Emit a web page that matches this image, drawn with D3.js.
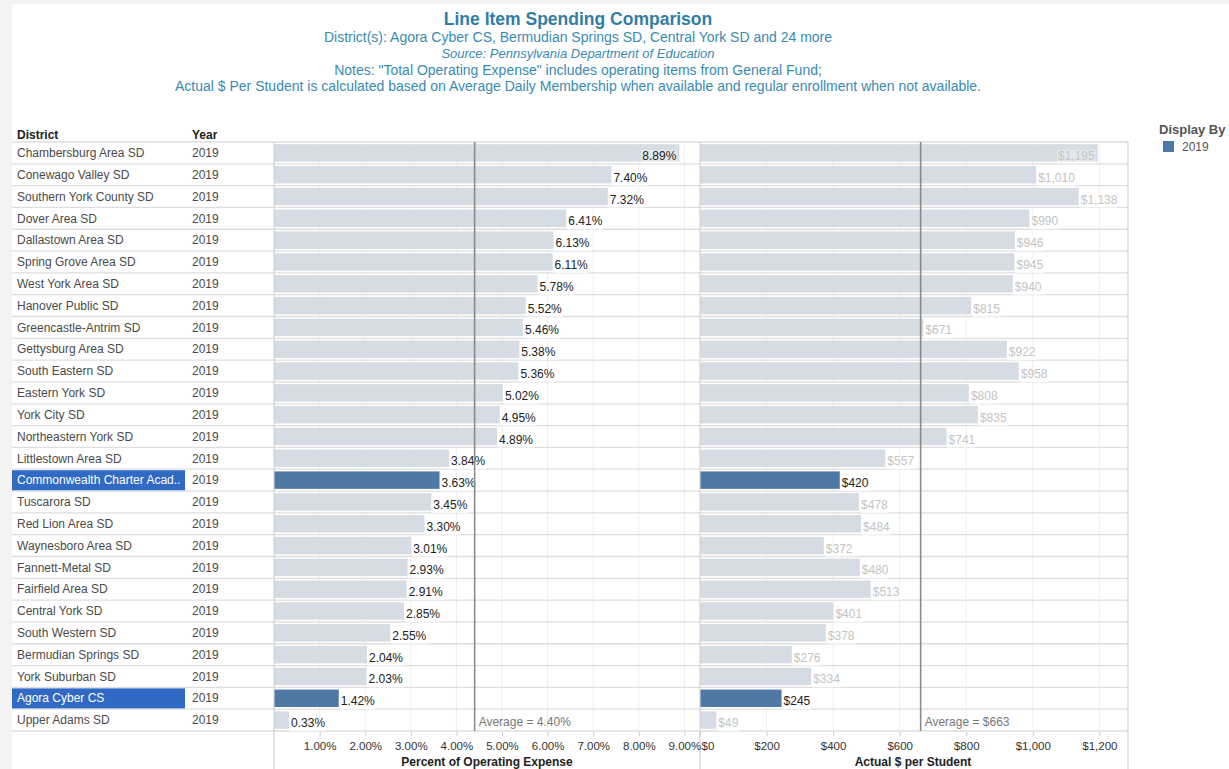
<!DOCTYPE html>
<html>
<head>
<meta charset="utf-8">
<script src="https://cdn.jsdelivr.net/npm/d3@7"></script>
<style>
    body { margin: 0; background: #f3f3f3; }
    svg { display: block; font-family: "Liberation Sans", Arial, sans-serif; }
</style>
</head>
<body>
<div id="chart"></div>
<script>
// values, top to bottom
const districts = [
    "Chambersburg Area SD", "Conewago Valley SD", "Southern York County SD", "Dover Area SD",
    "Dallastown Area SD", "Spring Grove Area SD", "West York Area SD", "Hanover Public SD",
    "Greencastle-Antrim SD", "Gettysburg Area SD", "South Eastern SD", "Eastern York SD",
    "York City SD", "Northeastern York SD", "Littlestown Area SD", "Commonwealth Charter Acad..",
    "Tuscarora SD", "Red Lion Area SD", "Waynesboro Area SD", "Fannett-Metal SD",
    "Fairfield Area SD", "Central York SD", "South Western SD", "Bermudian Springs SD",
    "York Suburban SD", "Agora Cyber CS", "Upper Adams SD"
];
const years = districts.map(() => "2019");
const pctOfExpense = [
    8.89, 7.40, 7.32, 6.41, 6.13, 6.11, 5.78, 5.52, 5.46, 5.38, 5.36, 5.02, 4.95, 4.89,
    3.84, 3.63, 3.45, 3.30, 3.01, 2.93, 2.91, 2.85, 2.55, 2.04, 2.03, 1.42, 0.33
];
const perStudent = [
    1195, 1010, 1138, 990, 946, 945, 940, 815, 671, 922, 958, 808, 835, 741,
    557, 420, 478, 484, 372, 480, 513, 401, 378, 276, 334, 245, 49
];
const highlighted = ["Commonwealth Charter Acad..", "Agora Cyber CS"];
const avgPct = 4.40;
const avgDollars = 663;
const pctTicks = [1, 2, 3, 4, 5, 6, 7, 8, 9];
const dollarTicks = [0, 200, 400, 600, 800, 1000, 1200];

const titleLines = [
    "District(s): Agora Cyber CS, Bermudian Springs SD, Central York SD and 24 more",
    "Source: Pennsylvania Department of Education",
    "Notes: \"Total Operating Expense\" includes operating items from General Fund;",
    "Actual $ Per Student is calculated based on Average Daily Membership when available and regular enrollment when not available."
];

const W = 1229, H = 769;
const rows = districts.map((d, i) => ({
    district: d,
    year: years[i],
    pct: pctOfExpense[i],
    dollars: perStudent[i],
    hl: highlighted.includes(d),
}));

const blue = "#4e79a7";
const light = "#d5dce4";
const teal = "#2f7ea5";

const svg = d3.select("#chart")
    .append("svg")
    .attr("width", W)
    .attr("height", H);

svg.append("rect")
    .attr("x", 12).attr("y", 4)
    .attr("width", W - 12).attr("height", H - 4)
    .attr("fill", "#fff");

// Titles
svg.append("text")
    .attr("x", 578).attr("y", 25)
    .attr("text-anchor", "middle")
    .attr("font-size", 17.5).attr("font-weight", "bold")
    .attr("fill", teal)
    .text("Line Item Spending Comparison");

const subY = [42, 58, 75, 91];
titleLines.forEach((t, i) => {
    svg.append("text")
        .attr("x", 578).attr("y", subY[i])
        .attr("text-anchor", "middle")
        .attr("font-size", i === 1 ? 13 : 14)
        .attr("font-style", i === 1 ? "italic" : null)
        .attr("fill", "#3a8ab2")
        .text(t);
});

// Row layout
const rowTop = 142, rowBottom = 731;
const y = d3.scaleBand()
    .domain(districts)
    .range([rowTop, rowBottom])
    .paddingInner(0.2)
    .paddingOuter(0.1);
const step = y.step();

const p1 = { x0: 274, x1: 700 };
const p2 = { x0: 700, x1: 1128 };
const xPct = d3.scaleLinear().domain([0, (p1.x1 - p1.x0) / 45.6]).range([p1.x0, p1.x1]);
const xDol = d3.scaleLinear().domain([0, (p2.x1 - p2.x0) / 0.3328]).range([p2.x0, p2.x1]);

// Table header
svg.append("text").attr("x", 17).attr("y", 139)
    .attr("font-size", 12).attr("font-weight", "bold").attr("fill", "#222").text("District");
svg.append("text").attr("x", 192).attr("y", 139)
    .attr("font-size", 12).attr("font-weight", "bold").attr("fill", "#222").text("Year");

// Highlighted table cells
svg.append("g")
    .selectAll("rect")
    .data(rows.filter(r => r.hl))
    .enter()
    .append("rect")
    .attr("x", 12)
    .attr("y", d => rowTop + districts.indexOf(d.district) * step + 1)
    .attr("width", 173)
    .attr("height", step - 1.5)
    .attr("fill", "#316ac5");

// Vertical gridlines
const grid = svg.append("g").attr("stroke", "#efefef").attr("stroke-width", 1);
grid.selectAll(".gp").data(pctTicks).enter().append("line")
    .attr("x1", d => xPct(d)).attr("x2", d => xPct(d))
    .attr("y1", rowTop).attr("y2", rowBottom);
grid.selectAll(".gd").data(dollarTicks.slice(1)).enter().append("line")
    .attr("x1", d => xDol(d)).attr("x2", d => xDol(d))
    .attr("y1", rowTop).attr("y2", rowBottom);

// Row separators
svg.append("g")
    .selectAll("line")
    .data(d3.range(districts.length + 1))
    .enter()
    .append("line")
    .attr("x1", 12).attr("x2", p2.x1)
    .attr("y1", i => rowTop + i * step).attr("y2", i => rowTop + i * step)
    .attr("stroke", "#dedede")
    .attr("stroke-width", 1.3);

// Table text
const cells = svg.append("g").attr("font-size", 12);
cells.selectAll(".dist").data(rows).enter().append("text")
    .attr("x", 17)
    .attr("y", d => rowTop + districts.indexOf(d.district) * step + step / 2)
    .attr("dy", "0.35em")
    .attr("fill", d => d.hl ? "#fff" : "#4a4a4a")
    .text(d => d.district);
cells.selectAll(".yr").data(rows).enter().append("text")
    .attr("x", 192)
    .attr("y", d => rowTop + districts.indexOf(d.district) * step + step / 2)
    .attr("dy", "0.35em")
    .attr("fill", "#4a4a4a")
    .text(d => d.year);

// Bars + labels for one panel
function drawPanel(x, panel, key, fmt, labelColor) {
    const g = svg.append("g");
    g.selectAll("rect")
        .data(rows)
        .enter()
        .append("rect")
        .attr("x", x(0))
        .attr("y", d => y(d.district))
        .attr("width", d => x(d[key]) - x(0))
        .attr("height", y.bandwidth())
        .attr("fill", d => d.hl ? blue : light);

    const lab = g.selectAll(".lab")
        .data(rows)
        .enter()
        .append("g");
    lab.each(function (d) {
        const s = d3.select(this);
        const end = x(d[key]);
        const t = s.append("text")
            .attr("y", y(d.district) + y.bandwidth() / 2 + 7)
            .attr("font-size", 12)
            .attr("fill", d.hl ? "#222" : labelColor)
            .text(fmt(d[key]));
        const w = t.node().getComputedTextLength();
        const inside = end + w + 4 > panel.x1;
        t.attr("x", inside ? end - w - 3 : end + 2);
        // faint label background, as Tableau draws it
        s.insert("rect", "text")
            .attr("x", (inside ? end - w - 3 : end + 2) - 1)
            .attr("y", y(d.district) + y.bandwidth() / 2 - 3)
            .attr("width", w + 2)
            .attr("height", 14)
            .attr("fill", "#fff")
            .attr("opacity", inside ? 0.35 : 0.8);
    });
}

drawPanel(xPct, p1, "pct", v => v.toFixed(2) + "%", "#222");
drawPanel(xDol, p2, "dollars", d3.format("$,"), "#c4c4c4");

// Reference lines
[[xPct, avgPct, "Average = " + avgPct.toFixed(2) + "%"],
 [xDol, avgDollars, "Average = $" + avgDollars]].forEach(([x, v, txt]) => {
    svg.append("line")
        .attr("x1", x(v)).attr("x2", x(v))
        .attr("y1", rowTop).attr("y2", rowBottom)
        .attr("stroke", "#8a8a8a")
        .attr("stroke-width", 1.6);
    svg.append("text")
        .attr("x", x(v) + 4)
        .attr("y", rowTop + (districts.length - 1) * step + step / 2 + 2)
        .attr("dy", "0.35em")
        .attr("font-size", 12)
        .attr("fill", "#777")
        .text(txt);
});

// Panel borders
svg.append("g")
    .selectAll("line")
    .data([p1.x0, p1.x1, p2.x1])
    .enter()
    .append("line")
    .attr("x1", d => d).attr("x2", d => d)
    .attr("y1", rowTop).attr("y2", H)
    .attr("stroke", "#d4d4d4")
    .attr("stroke-width", 1.2);

// Axes
function drawAxis(x, ticks, fmt, title, cx) {
    const ax = svg.append("g")
        .attr("transform", `translate(0,${rowBottom + 1})`)
        .call(d3.axisBottom(x).tickValues(ticks).tickFormat(fmt).tickSize(4).tickSizeOuter(0));
    ax.select(".domain").remove();
    ax.selectAll(".tick line").attr("stroke", "#ccc");
    ax.selectAll(".tick text")
        .attr("font-size", 11.5)
        .attr("font-family", "Liberation Sans, Arial, sans-serif")
        .attr("fill", "#333")
        .attr("y", 10);
    svg.append("text")
        .attr("x", cx).attr("y", 766)
        .attr("text-anchor", "middle")
        .attr("font-size", 12)
        .attr("font-weight", "bold")
        .attr("fill", "#222")
        .text(title);
    return ax;
}

drawAxis(xPct, pctTicks, v => v.toFixed(2) + "%", "Percent of Operating Expense", 487);
const ax2 = drawAxis(xDol, dollarTicks, d3.format("$,"), "Actual $ per Student", 913);
// first label sits inside the panel edge
ax2.selectAll(".tick text").filter(d => d === 0).attr("text-anchor", "start").attr("x", 1);

// Legend
svg.append("text").attr("x", 1159).attr("y", 134)
    .attr("font-size", 13).attr("font-weight", "bold").attr("fill", "#555").text("Display By");
svg.append("rect").attr("x", 1163).attr("y", 141)
    .attr("width", 11).attr("height", 11).attr("fill", blue);
svg.append("text").attr("x", 1182).attr("y", 151)
    .attr("font-size", 12).attr("fill", "#555").text("2019");
</script>
</body>
</html>
